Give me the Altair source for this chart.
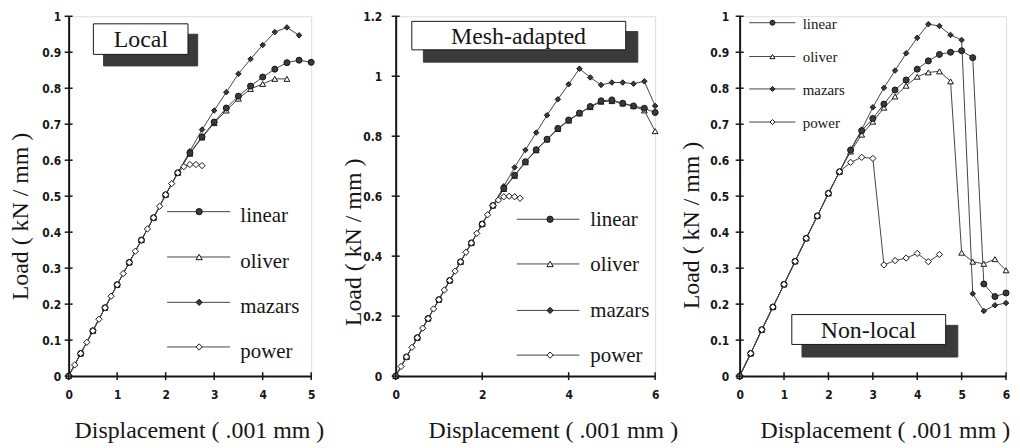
import altair as alt
import pandas as pd

# ------------------------------------------------------------------ data
SERIES = ["mazars", "oliver", "linear", "power"]          # drawing order
LEGEND_ORDER = ["linear", "oliver", "mazars", "power"]

# Local
local_linear_x = [0, 0.25, 0.5, 0.75, 1, 1.25, 1.5, 1.75, 2, 2.25, 2.5, 2.75, 3, 3.25, 3.5, 3.75, 4, 4.25, 4.5, 4.75, 5]
local_linear_y = [0, 0.063, 0.126, 0.19, 0.254, 0.316, 0.378, 0.44, 0.504, 0.565, 0.62, 0.665, 0.706, 0.745, 0.778, 0.806, 0.831, 0.853, 0.871, 0.878, 0.872]
local_oliver_x = [0, 0.25, 0.5, 0.75, 1, 1.25, 1.5, 1.75, 2, 2.25, 2.5, 2.75, 3, 3.25, 3.5, 3.75, 4, 4.25, 4.5]
local_oliver_y = [0, 0.063, 0.126, 0.19, 0.254, 0.316, 0.378, 0.44, 0.504, 0.565, 0.618, 0.663, 0.703, 0.738, 0.771, 0.798, 0.812, 0.826, 0.826]
local_mazars_x = [0, 0.25, 0.5, 0.75, 1, 1.25, 1.5, 1.75, 2, 2.25, 2.5, 2.75, 3, 3.25, 3.5, 3.75, 4, 4.25, 4.5, 4.75]
local_mazars_y = [0, 0.063, 0.126, 0.19, 0.254, 0.316, 0.378, 0.44, 0.504, 0.565, 0.625, 0.685, 0.738, 0.789, 0.84, 0.881, 0.92, 0.956, 0.969, 0.947]
local_power_x = [0, 0.125, 0.25, 0.375, 0.5, 0.625, 0.75, 0.875, 1, 1.125, 1.25, 1.375, 1.5, 1.625, 1.75, 1.875, 2, 2.125, 2.25, 2.375, 2.5, 2.625, 2.75]
local_power_y = [0, 0.031, 0.063, 0.094, 0.126, 0.158, 0.19, 0.222, 0.254, 0.285, 0.316, 0.347, 0.378, 0.409, 0.44, 0.472, 0.504, 0.535, 0.565, 0.582, 0.588, 0.588, 0.585]

# Mesh-adapted
mesh_x = [0, 0.25, 0.5, 0.75, 1, 1.25, 1.5, 1.75, 2, 2.25, 2.5, 2.75, 3, 3.25, 3.5, 3.75, 4, 4.25, 4.5, 4.75, 5, 5.25, 5.5, 5.75, 6]
mesh_linear_y = [0, 0.064, 0.128, 0.192, 0.255, 0.319, 0.381, 0.444, 0.507, 0.569, 0.626, 0.67, 0.715, 0.755, 0.79, 0.826, 0.854, 0.877, 0.899, 0.918, 0.921, 0.91, 0.901, 0.893, 0.879]
mesh_oliver_y = [0, 0.064, 0.128, 0.192, 0.255, 0.319, 0.381, 0.444, 0.507, 0.569, 0.624, 0.668, 0.713, 0.753, 0.789, 0.824, 0.852, 0.876, 0.897, 0.915, 0.917, 0.909, 0.9, 0.886, 0.817]
mesh_mazars_y = [0, 0.064, 0.128, 0.192, 0.255, 0.319, 0.381, 0.444, 0.507, 0.569, 0.633, 0.696, 0.754, 0.812, 0.87, 0.923, 0.973, 1.025, 0.996, 0.971, 0.979, 0.979, 0.975, 0.983, 0.901]
mesh_power_x = [0, 0.125, 0.25, 0.375, 0.5, 0.625, 0.75, 0.875, 1, 1.125, 1.25, 1.375, 1.5, 1.625, 1.75, 1.875, 2, 2.125, 2.25, 2.375, 2.5, 2.625, 2.75, 2.875]
mesh_power_y = [0, 0.032, 0.064, 0.096, 0.128, 0.16, 0.192, 0.224, 0.255, 0.287, 0.319, 0.35, 0.381, 0.413, 0.444, 0.476, 0.507, 0.538, 0.569, 0.587, 0.598, 0.6, 0.598, 0.593]

# Non-local
nl_x = [0, 0.25, 0.5, 0.75, 1, 1.25, 1.5, 1.75, 2, 2.25, 2.5, 2.75, 3, 3.25, 3.5, 3.75, 4, 4.25, 4.5, 4.75, 5, 5.25, 5.5, 5.75, 6]
nl_linear_y = [0, 0.063, 0.129, 0.192, 0.255, 0.319, 0.383, 0.445, 0.508, 0.568, 0.628, 0.682, 0.716, 0.756, 0.795, 0.823, 0.853, 0.876, 0.894, 0.9, 0.904, 0.885, 0.256, 0.221, 0.231]
nl_oliver_y = [0, 0.063, 0.129, 0.192, 0.255, 0.319, 0.383, 0.445, 0.508, 0.568, 0.624, 0.671, 0.707, 0.746, 0.777, 0.807, 0.832, 0.844, 0.847, 0.819, 0.343, 0.318, 0.312, 0.325, 0.294]
nl_mazars_y = [0, 0.063, 0.129, 0.192, 0.255, 0.319, 0.383, 0.445, 0.508, 0.568, 0.63, 0.685, 0.747, 0.801, 0.849, 0.897, 0.94, 0.978, 0.973, 0.948, 0.934, 0.229, 0.181, 0.197, 0.203]
nl_power_x = [0, 0.25, 0.5, 0.75, 1, 1.25, 1.5, 1.75, 2, 2.25, 2.5, 2.75, 3, 3.25, 3.5, 3.75, 4, 4.25, 4.5]
nl_power_y = [0, 0.063, 0.129, 0.192, 0.255, 0.319, 0.383, 0.445, 0.508, 0.568, 0.594, 0.608, 0.605, 0.309, 0.321, 0.328, 0.341, 0.318, 0.338]

local_series = {
    "linear": (local_linear_x, local_linear_y),
    "oliver": (local_oliver_x, local_oliver_y),
    "mazars": (local_mazars_x, local_mazars_y),
    "power": (local_power_x, local_power_y),
}
mesh_series = {
    "linear": (mesh_x, mesh_linear_y),
    "oliver": (mesh_x, mesh_oliver_y),
    "mazars": (mesh_x, mesh_mazars_y),
    "power": (mesh_power_x, mesh_power_y),
}
nl_series = {
    "linear": (nl_x, nl_linear_y),
    "oliver": (nl_x, nl_oliver_y),
    "mazars": (nl_x, nl_mazars_y),
    "power": (nl_power_x, nl_power_y),
}

# ------------------------------------------------------------------ styling / layout
SERIF = "Liberation Serif"
TICKFONT = "DejaVu Sans Condensed"
INK = "#161616"
LINE = "#454545"

shape_scale = alt.Scale(domain=SERIES, range=["diamond", "triangle-up", "circle", "diamond"])
fill_scale = alt.Scale(domain=SERIES, range=["#1e1e1e", "#a8a8a8", "#858585", "#ffffff"])
size_scale = alt.Scale(domain=SERIES, range=[30, 40, 45, 30])

panels = [
    dict(series=local_series, width=244, xmax=5, ymax=1.0,
         xticks=[0, 1, 2, 3, 4, 5], yticks=[0, 0.1, 0.2, 0.3, 0.4, 0.5, 0.6, 0.7, 0.8, 0.9, 1.0],
         ylabpad=8, ytitle=(-41, 201), xtitle=(131, 62),
         title="Local", box=(0.51, 2.46, 0.894, 0.979), shadow=(0.72, 2.66, 0.862, 0.95),
         title_pos=(1.49, 0.914),
         leg_line=(2.03, 3.33), leg_mark=2.69, leg_lab=3.54,
         leg_y=[0.457, 0.331, 0.205, 0.081], leg_by=[0.427, 0.301, 0.176, 0.05],
         leg_font=21, leg_msize=40),
    dict(series=mesh_series, width=261, xmax=6, ymax=1.2,
         xticks=[0, 2, 4, 6], yticks=[0, 0.2, 0.4, 0.6, 0.8, 1.0, 1.2],
         ylabpad=14, ytitle=(-35, 227), xtitle=(158, 62),
         title="Mesh-adapted", box=(0.373, 5.32, 1.088, 1.183), shadow=(0.641, 5.60, 1.047, 1.149),
         title_pos=(2.84, 1.108),
         leg_line=(2.8, 4.25), leg_mark=3.57, leg_lab=4.5,
         leg_y=[0.523, 0.374, 0.219, 0.07], leg_by=[0.5, 0.35, 0.196, 0.046],
         leg_font=21, leg_msize=40),
    dict(series=nl_series, width=268, xmax=6, ymax=1.0,
         xticks=[0, 1, 2, 3, 4, 5, 6], yticks=[0, 0.1, 0.2, 0.3, 0.4, 0.5, 0.6, 0.7, 0.8, 0.9, 1.0],
         ylabpad=11, ytitle=(-41, 210), xtitle=(146, 62),
         title="Non-local", box=(1.175, 4.64, 0.088, 0.171), shadow=(1.405, 4.914, 0.053, 0.141),
         title_pos=(2.9, 0.107),
         leg_line=(0.216, 1.256), leg_mark=0.74, leg_lab=1.42,
         leg_y=[0.982, 0.888, 0.798, 0.706], leg_by=[0.965, 0.872, 0.782, 0.689],
         leg_font=15, leg_msize=25),
]

HEIGHT = 362


def make_panel(cfg):
    rows = []
    for name in SERIES:
        xs, ys = cfg["series"][name]
        for xv, yv in zip(xs, ys):
            rows.append({"x": xv, "y": yv, "series": name})
    df = pd.DataFrame(rows)

    xs_ = alt.Scale(domain=[0, cfg["xmax"]], nice=False, zero=False)
    ys_ = alt.Scale(domain=[0, cfg["ymax"]], nice=False, zero=False)

    xaxis = alt.Axis(values=cfg["xticks"], format="~g", ticks=False, tickSize=0, grid=False,
                     domainWidth=2, domainColor=INK, labelPadding=14, labelFlush=False,
                     labelOverlap=False, labelFont=TICKFONT, labelFontSize=12,
                     labelFontWeight="bold", labelColor=INK,
                     title="Displacement ( .001 mm )", titleFont=SERIF, titleFontSize=24,
                     titleFontWeight="normal", titleColor=INK,
                     titleX=cfg["xtitle"][0], titleY=cfg["xtitle"][1],
                     titleAlign="center", titleBaseline="alphabetic")
    yaxis = alt.Axis(values=cfg["yticks"], format="~g", ticks=False, tickSize=0, grid=False,
                     domainWidth=2, domainColor=INK, labelPadding=cfg["ylabpad"], labelFlush=False,
                     labelOverlap=False, labelFont=TICKFONT, labelFontSize=12,
                     labelFontWeight="bold", labelColor=INK,
                     title="Load ( kN / mm )", titleFont=SERIF, titleFontSize=24,
                     titleFontWeight="normal", titleColor=INK, titleAngle=270,
                     titleX=cfg["ytitle"][0], titleY=cfg["ytitle"][1],
                     titleAlign="center", titleBaseline="alphabetic")

    def X(f="x"):
        return alt.X(f"{f}:Q", scale=xs_, axis=xaxis)

    def Y(f="y"):
        return alt.Y(f"{f}:Q", scale=ys_, axis=yaxis)

    lines = alt.Chart(df).mark_line(color=LINE, strokeWidth=1).encode(
        x=X(), y=Y(), detail="series:N")

    pts = alt.Chart(df).mark_point(filled=True, strokeWidth=1, opacity=1, stroke=INK).encode(
        x=X(), y=Y(),
        shape=alt.Shape("series:N", scale=shape_scale, legend=None),
        fill=alt.Fill("series:N", scale=fill_scale, legend=None),
        size=alt.Size("series:N", scale=size_scale, legend=None))

    # crossing axis ticks
    ytk = alt.Chart(pd.DataFrame({"y": cfg["yticks"], "x": [0] * len(cfg["yticks"])})).mark_tick(
        orient="horizontal", size=8, thickness=1.5, color=INK, opacity=1).encode(x=X(), y=Y())
    xtk = alt.Chart(pd.DataFrame({"x": cfg["xticks"], "y": [0] * len(cfg["xticks"])})).mark_tick(
        orient="vertical", size=8, thickness=1.5, color=INK, opacity=1).encode(x=X(), y=Y())

    # title box with shadow
    bx = cfg["box"]
    sh = cfg["shadow"]
    boxdf = pd.DataFrame([
        {"x": sh[0], "x2": sh[1], "y": sh[2], "y2": sh[3], "kind": "shadow"},
        {"x": bx[0], "x2": bx[1], "y": bx[2], "y2": bx[3], "kind": "box"},
    ])
    boxes = alt.Chart(boxdf).mark_rect(strokeWidth=1).encode(
        x=X(), x2="x2:Q", y=Y(), y2="y2:Q",
        fill=alt.Fill("kind:N", scale=alt.Scale(domain=["shadow", "box"], range=["#3a3a3a", "#ffffff"]), legend=None),
        stroke=alt.Stroke("kind:N", scale=alt.Scale(domain=["shadow", "box"], range=["#3a3a3a", INK]), legend=None),
        order=alt.Order("kind:N", sort="descending"))
    ttl = alt.Chart(pd.DataFrame([{"x": cfg["title_pos"][0], "y": cfg["title_pos"][1], "t": cfg["title"]}])).mark_text(
        font=SERIF, fontSize=24, color=INK, align="center", baseline="alphabetic").encode(
        x=X(), y=Y(), text="t:N")

    # legend
    legdf = pd.DataFrame([
        {"series": s, "x": cfg["leg_line"][0], "x2": cfg["leg_line"][1], "xm": cfg["leg_mark"],
         "xl": cfg["leg_lab"], "y": yl, "yb": yb}
        for s, yl, yb in zip(LEGEND_ORDER, cfg["leg_y"], cfg["leg_by"])
    ])
    legline = alt.Chart(legdf).mark_rule(color=LINE, strokeWidth=1).encode(x=X(), x2="x2:Q", y=Y())
    legpts = alt.Chart(legdf).mark_point(filled=True, strokeWidth=1, opacity=1, stroke=INK).encode(
        x=X("xm"), y=Y(),
        shape=alt.Shape("series:N", scale=shape_scale, legend=None),
        fill=alt.Fill("series:N", scale=fill_scale, legend=None),
        size=alt.value(cfg["leg_msize"]))
    legtxt = alt.Chart(legdf).mark_text(font=SERIF, fontSize=cfg["leg_font"], color=INK,
                                        align="left", baseline="alphabetic").encode(
        x=X("xl"), y=Y("yb"), text="series:N")

    return alt.layer(lines, boxes, ttl, pts, xtk, ytk, legline, legpts, legtxt).properties(
        width=cfg["width"], height=HEIGHT)


chart = alt.hconcat(*[make_panel(c) for c in panels], spacing=85, bounds="flush").properties(
    padding={"left": 0, "top": 0, "right": 0, "bottom": 0}
).configure_view(stroke=None).configure(background="white")

chart.save("out.html", embed_options={"renderer": "svg", "actions": False})
